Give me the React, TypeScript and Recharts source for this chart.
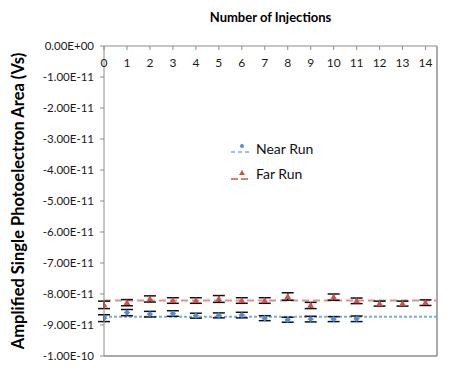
import React from 'react';
import {
  ComposedChart,
  Scatter,
  XAxis,
  YAxis,
  ErrorBar,
  ReferenceLine,
} from 'recharts';

const injections = [0, 1, 2, 3, 4, 5, 6, 7, 8, 9, 10, 11, 12, 13, 14];
const yTicks = [0, -1e-11, -2e-11, -3e-11, -4e-11, -5e-11, -6e-11, -7e-11, -8e-11, -9e-11, -1e-10];

const nearValues = [-8.78, -8.6, -8.65, -8.63, -8.7, -8.69, -8.68, -8.78, -8.83, -8.81, -8.81, -8.8];
const nearErrors = [0.11, 0.1, 0.09, 0.09, 0.08, 0.08, 0.09, 0.08, 0.08, 0.09, 0.08, 0.09];
const farValues = [-8.35, -8.28, -8.16, -8.21, -8.21, -8.16, -8.21, -8.21, -8.08, -8.37, -8.1, -8.22, -8.31, -8.31, -8.28];
const farErrors = [0.12, 0.1, 0.1, 0.09, 0.09, 0.11, 0.09, 0.09, 0.12, 0.1, 0.1, 0.09, 0.08, 0.08, 0.09];
const nearTrend = -8.73;
const farTrend = -8.21;
const unit = 1e-11;
const xMax = 14.5;
const yMin = -1e-10;

const seriesNames = ['Near Run', 'Far Run'];
const chartTitle = 'Number of Injections';
const yTitle = 'Amplified Single Photoelectron Area (Vs)';

const nearData = nearValues.map((v, i) => ({ x: injections[i], y: v * unit, err: nearErrors[i] * unit }));
const farData = farValues.map((v, i) => ({ x: injections[i], y: v * unit, err: farErrors[i] * unit }));

const FONT = 'Lato, "Open Sans", sans-serif';
const BLUE = '#4f8fd6';
const BLUE_LINE = '#7fa9de';
const RED = '#d2504c';
const RED_LINE = '#e0908d';
const AXIS = '#8c8c8c';

const fmtExp = (v: number) => {
  const s = v.toExponential(2).toUpperCase();
  return s.replace(/E([+-])(\d)$/, 'E$10$2');
};

const DiamondShape = (props: any) => {
  const { cx, cy } = props;
  if (cx == null || cy == null) return null;
  const r = 3.2;
  return <polygon points={`${cx},${cy - r} ${cx + r},${cy} ${cx},${cy + r} ${cx - r},${cy}`} fill={BLUE} />;
};

const TriangleShape = (props: any) => {
  const { cx, cy } = props;
  if (cx == null || cy == null) return null;
  return <polygon points={`${cx},${cy - 3.6} ${cx + 3.4},${cy + 2.4} ${cx - 3.4},${cy + 2.4}`} fill={RED} />;
};

const XTick = (props: any) => {
  const { x, y, payload } = props;
  return (
    <g>
      <line x1={x} x2={x} y1={y} y2={y + 4} stroke={AXIS} strokeWidth={1} />
      <text x={x} y={y + 21} textAnchor="middle" fontFamily={FONT} fontSize={12} fill="#1a1a1a">
        {payload.value}
      </text>
    </g>
  );
};

const LegendBox = () => (
  <div style={{ position: 'absolute', left: 230, top: 136, fontFamily: FONT, fontSize: 14, color: '#111' }}>
    <div style={{ display: 'flex', alignItems: 'center', height: 25 }}>
      <svg width={26} height={16}>
        <line x1={1} x2={21} y1={11} y2={11} stroke={BLUE_LINE} strokeWidth={1.5} strokeDasharray="4 3" />
        <circle cx={12} cy={5} r={2} fill={BLUE} />
      </svg>
      <span>{seriesNames[0]}</span>
    </div>
    <div style={{ display: 'flex', alignItems: 'center', height: 25 }}>
      <svg width={26} height={16}>
        <line x1={1} x2={21} y1={13} y2={13} stroke={RED} strokeWidth={1.5} strokeDasharray="7 3" />
        <polygon points="12,4 15,9 9,9" fill={RED} />
      </svg>
      <span>{seriesNames[1]}</span>
    </div>
  </div>
);

export default function App() {
  return (
    <div style={{ position: 'absolute', left: 0, top: 0, width: 458, height: 382, background: '#fff' }}>
      <ComposedChart width={458} height={382} margin={{ top: 45, right: 21, bottom: 26, left: 0 }}>
        <XAxis
          dataKey="x"
          type="number"
          orientation="top"
          domain={[0, xMax]}
          ticks={injections}
          interval={0}
          height={1}
          tickSize={0}
          tickMargin={0}
          tickLine={false}
          tick={<XTick />}
          axisLine={{ stroke: AXIS }}
          allowDataOverflow
          label={{
            value: chartTitle,
            position: 'top',
            offset: 23,
            style: { fontFamily: FONT, fontWeight: 'bold', fontSize: 13, fill: '#000' },
          }}
        />
        <YAxis
          dataKey="y"
          type="number"
          width={104}
          domain={[yMin, 0]}
          ticks={yTicks}
          interval={0}
          tickFormatter={fmtExp}
          tickSize={4}
          tickMargin={6}
          tickLine={{ stroke: AXIS }}
          axisLine={{ stroke: AXIS }}
          allowDataOverflow
          tick={{ fontFamily: FONT, fontSize: 11.5, fill: '#1a1a1a' }}
          label={{
            value: yTitle,
            angle: -90,
            position: 'insideLeft',
            offset: 18,
            style: { textAnchor: 'middle', fontFamily: FONT, fontWeight: 'bold', fontSize: 16.5, fill: '#000' },
          }}
        />
        <ReferenceLine x={xMax} stroke={AXIS} strokeWidth={1.5} ifOverflow="visible" />
        <ReferenceLine y={yMin} stroke={AXIS} strokeWidth={1.5} ifOverflow="visible" />
        <ReferenceLine y={nearTrend * unit} stroke={BLUE_LINE} strokeWidth={2} strokeDasharray="3 2" />
        <ReferenceLine y={farTrend * unit} stroke={RED_LINE} strokeWidth={2} strokeDasharray="7 4" />
        <Scatter name={seriesNames[0]} data={nearData} fill={BLUE} shape={<DiamondShape />} isAnimationActive={false}>
          <ErrorBar dataKey="err" direction="y" width={6} stroke="#111" strokeWidth={1.5} />
        </Scatter>
        <Scatter name={seriesNames[1]} data={farData} fill={RED} shape={<TriangleShape />} isAnimationActive={false}>
          <ErrorBar dataKey="err" direction="y" width={6} stroke="#111" strokeWidth={1.5} />
        </Scatter>
      </ComposedChart>
      <LegendBox />
    </div>
  );
}
